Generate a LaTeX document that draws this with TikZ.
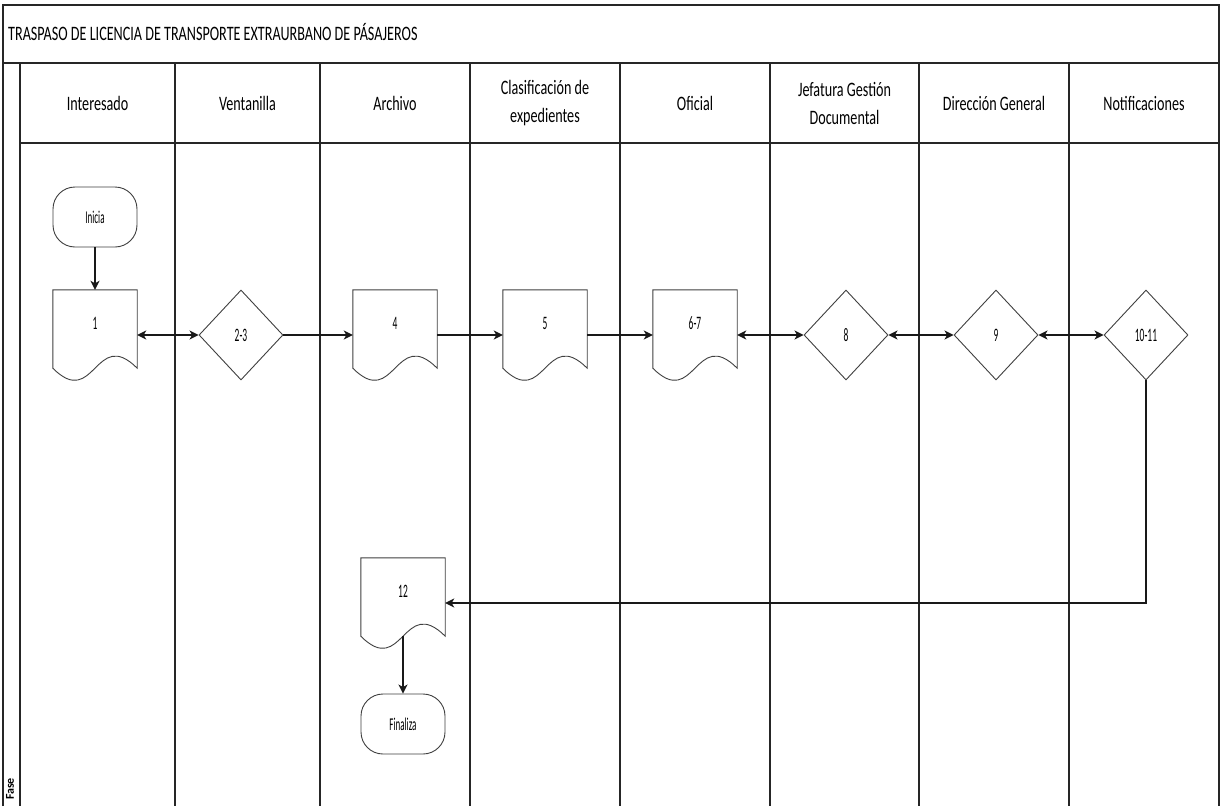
\documentclass[tikz,border=0pt]{standalone}
\usepackage{fontspec}
\setmainfont{Carlito}
\newfontfamily\headfont{Carlito}[FakeStretch=0.69]
\newfontfamily\tagfont{Carlito}[FakeStretch=0.5]
\usetikzlibrary{arrows.meta,shapes.geometric,calc}

% document symbol: straight top and sides, wavy bottom edge
\newcommand\drawdocument[1]{%
  \draw[shapeline]
    ([yshift=12pt]#1.south west) -- (#1.north west) -- (#1.north east)
    -- ([yshift=12pt]#1.south east)
    .. controls ($([yshift=12pt]#1.south east)+(-42,-42)$)
       and ($([yshift=12pt]#1.south west)+(42,42)$)
    .. ([yshift=12pt]#1.south west) -- cycle;}

\begin{document}
\begin{tikzpicture}[x=1pt,y=-1pt,
  frame/.style={draw=black!85,line width=1.4pt},
  laneline/.style={draw=black!85,line width=1.3pt},
  lanehead/.style={font=\headfont\fontsize{20.5}{28}\selectfont,align=center,inner sep=0pt},
  shapeline/.style={draw=black!75,line width=0.9pt},
  docbox/.style={rectangle,minimum width=84pt,minimum height=90pt,inner sep=0pt,
    font=\tagfont\fontsize{19}{19}\selectfont,text height=2pt,text depth=13pt},
  decision/.style={diamond,shapeline,minimum width=84pt,minimum height=90pt,
    inner sep=0pt,font=\tagfont\fontsize{19}{19}\selectfont},
  terminal/.style={rectangle,rounded corners=22pt,shapeline,minimum width=84pt,
    minimum height=60pt,inner sep=0pt,font=\tagfont\fontsize{18}{18}\selectfont},
  flow/.style={draw=black!90,line width=1.8pt,-{Stealth[length=9pt,width=9pt,inset=2.5pt]}},
  twoway/.style={draw=black!90,line width=1.8pt,
    {Stealth[length=9pt,width=9pt,inset=2.5pt]}-{Stealth[length=9pt,width=9pt,inset=2.5pt]}}
]
\useasboundingbox (0,0) rectangle (1221,806);
\fill[white] (0,0) rectangle (1221,806);

% outer frame, title band and lane header band
\draw[frame] (3,806) -- (3,5) -- (1219,5) -- (1219,806);
\draw[frame] (3,63) -- (1219,63);
\draw[frame] (20,143) -- (1219,143);

% lane separators
\foreach \lx in {20,175,320,470,620,770,919,1069}
  \draw[laneline] (\lx,63) -- (\lx,806);

\node[anchor=base west,inner sep=0pt,font=\headfont\fontsize{20.5}{20.5}\selectfont]
  (title) at (8,40) {TRASPASO DE LICENCIA DE TRANSPORTE EXTRAURBANO DE PÁSAJEROS};

\node[rotate=90,inner sep=0pt,font=\bfseries\fontsize{12}{12}\selectfont] (fase) at (10,789) {Fase};

% lane headers
\node[lanehead] (hInt) at (97.5,103) {Interesado};
\node[lanehead] (hVen) at (247.5,103) {Ventanilla};
\node[lanehead] (hArc) at (395,103) {Archivo};
\node[lanehead] (hCla) at (545,103) {Clasificación de\\expedientes};
\node[lanehead] (hOfi) at (695,103) {Oficial};
\node[lanehead] (hJef) at (844.5,103) {Jefatura Gestión\\Documental};
\node[lanehead] (hDir) at (994,103) {Dirección General};
\node[lanehead] (hNot) at (1144,103) {Notificaciones};

% process steps
\node[terminal] (ini) at (95,217) {Inicia};
\node[docbox] (d1) at (95,335) {1};
\node[decision] (p23) at (241,335) {2-3};
\node[docbox] (d4) at (395,335) {4};
\node[docbox] (d5) at (545,335) {5};
\node[docbox] (d67) at (695,335) {6-7};
\node[decision] (p8) at (846,335) {8};
\node[decision] (p9) at (996,335) {9};
\node[decision] (p1011) at (1146,335) {10-11};
\node[docbox] (d12) at (403,603) {12};
\node[terminal] (fin) at (403,724) {Finaliza};

\drawdocument{d1}
\drawdocument{d4}
\drawdocument{d5}
\drawdocument{d67}
\drawdocument{d12}

% connectors
\draw[flow] (ini) -- (d1);
\draw[twoway] (d1) -- (p23);
\draw[flow] (p23) -- (d4);
\draw[flow] (d4) -- (d5);
\draw[flow] (d5) -- (d67);
\draw[twoway] (d67) -- (p8);
\draw[twoway] (p8) -- (p9);
\draw[twoway] (p9) -- (p1011);
\draw[flow] (p1011.south) |- (d12.east);
\draw[flow] ([yshift=12pt]d12.south) -- (fin);
\end{tikzpicture}
\end{document}
